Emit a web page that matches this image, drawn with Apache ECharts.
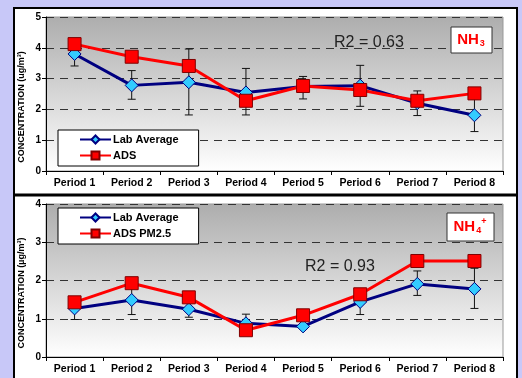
<!DOCTYPE html>
<html>
<head>
<meta charset="utf-8">
<script src="https://cdn.jsdelivr.net/npm/echarts@6/dist/echarts.min.js"></script>
<style>
html,body{margin:0;padding:0;background:#c8c8f8;}
#chart{width:522px;height:378px;}
</style>
</head>
<body>
<div id="chart"></div>
<script>
const categories = ['Period 1','Period 2','Period 3','Period 4','Period 5','Period 6','Period 7','Period 8'];
const nh3Lab = [3.8, 2.78, 2.88, 2.55, 2.74, 2.77, 2.2, 1.81];
const nh3Ads = [4.12, 3.71, 3.41, 2.28, 2.76, 2.63, 2.28, 2.52];
const nh3ErrLow = [3.41, 2.33, 1.82, 1.82, 2.34, 2.1, 1.8, 1.28];
const nh3ErrHigh = [4.19, 3.26, 3.96, 3.33, 3.07, 3.43, 2.6, 2.34];
const nh4Lab = [1.27, 1.49, 1.25, 0.88, 0.8, 1.44, 1.91, 1.78];
const nh4Ads = [1.43, 1.93, 1.56, 0.7, 1.09, 1.64, 2.51, 2.51];
const nh4ErrLow = [0.98, 1.11, 1.04, 0.64, 0.74, 1.11, 1.61, 1.27];
const nh4ErrHigh = [1.56, 1.87, 1.46, 1.12, 0.86, 1.77, 2.25, 2.32];
const nh3Ticks = [0, 1, 2, 3, 4, 5];
const nh4Ticks = [0, 1, 2, 3, 4];

const chart = echarts.init(document.getElementById('chart'));
const FONT = 'Liberation Sans, Arial, sans-serif';

function grad() {
  return new echarts.graphic.LinearGradient(0, 0, 0, 1, [
    {offset: 0, color: '#adadad'},
    {offset: 1, color: '#ffffff'}
  ]);
}

function errRender(params, api) {
  const x = api.value(0);
  const p1 = api.coord([x, api.value(1)]);
  const p2 = api.coord([x, api.value(2)]);
  const w = 4;
  const st = {stroke: '#111', lineWidth: 1};
  return {type: 'group', children: [
    {type: 'line', shape: {x1: p1[0], y1: p1[1], x2: p2[0], y2: p2[1]}, style: st},
    {type: 'line', shape: {x1: p1[0]-w, y1: p1[1], x2: p1[0]+w, y2: p1[1]}, style: st},
    {type: 'line', shape: {x1: p2[0]-w, y1: p2[1], x2: p2[0]+w, y2: p2[1]}, style: st}
  ]};
}

function xAx(gi) {
  return {
    type: 'category', gridIndex: gi, data: categories, boundaryGap: true,
    axisLine: {lineStyle: {color: '#000', width: 1}},
    axisTick: {show: true, length: 4, lineStyle: {color: '#000'}},
    axisLabel: {interval: 0, margin: 7, color: '#000', fontWeight: 'bold', fontSize: 10.5, fontFamily: FONT},
    splitLine: {show: false}
  };
}
function yAx(gi, ticks) {
  return {
    type: 'value', gridIndex: gi, min: ticks[0], max: ticks[ticks.length-1], interval: 1,
    axisLine: {show: true, lineStyle: {color: '#000', width: 1}},
    axisTick: {show: true, length: 4, lineStyle: {color: '#000'}},
    axisLabel: {margin: 5, color: '#000', fontWeight: 'bold', fontSize: 10, fontFamily: FONT},
    splitLine: {show: true, lineStyle: {color: '#333', width: 1, type: [8, 6]}}
  };
}
function labSeries(gi, data) {
  return {
    name: 'Lab Average', type: 'line', xAxisIndex: gi, yAxisIndex: gi, data: data,
    symbol: 'diamond', symbolSize: 13,
    lineStyle: {color: '#000080', width: 3},
    itemStyle: {color: '#33ccff', borderColor: '#000080', borderWidth: 1},
    z: 3
  };
}
function adsSeries(gi, name, data) {
  return {
    name: name, type: 'line', xAxisIndex: gi, yAxisIndex: gi, data: data,
    symbol: 'rect', symbolSize: 13,
    lineStyle: {color: '#ff0000', width: 3},
    itemStyle: {color: '#ff0000', borderColor: '#800000', borderWidth: 1},
    z: 4
  };
}
function errSeries(gi, lo, hi) {
  return {
    type: 'custom', xAxisIndex: gi, yAxisIndex: gi, renderItem: errRender,
    encode: {x: 0, y: [1, 2]}, z: 2, silent: true,
    data: categories.map((c, i) => [i, lo[i], hi[i]])
  };
}
function legendCfg(names, top) {
  return {
    data: names, orient: 'vertical', left: 58, top: top,
    backgroundColor: '#fff', borderColor: '#000', borderWidth: 1,
    padding: [4, 20, 5, 21], itemGap: 5, itemWidth: 31, itemHeight: 10,
    textStyle: {color: '#000', fontWeight: 'bold', fontSize: 11, fontFamily: FONT, padding: [0, 0, 0, -3]}
  };
}

const option = {
  backgroundColor: '#c8c8f8',
  animation: false,
  grid: [
    {left: 46, top: 17, width: 457, height: 154, show: true, backgroundColor: grad(), borderColor: '#999', borderWidth: 1},
    {left: 46, top: 204, width: 457, height: 153, show: true, backgroundColor: grad(), borderColor: '#999', borderWidth: 1}
  ],
  xAxis: [xAx(0), xAx(1)],
  yAxis: [yAx(0, nh3Ticks), yAx(1, nh4Ticks)],
  legend: [
    legendCfg(['Lab Average', 'ADS'], 130),
    legendCfg(['Lab Average', 'ADS PM2.5'], 208)
  ],
  series: [
    errSeries(0, nh3ErrLow, nh3ErrHigh),
    labSeries(0, nh3Lab),
    adsSeries(0, 'ADS', nh3Ads),
    errSeries(1, nh4ErrLow, nh4ErrHigh),
    labSeries(1, nh4Lab),
    adsSeries(1, 'ADS PM2.5', nh4Ads)
  ],
  graphic: [
    {type: 'rect', z: -10, shape: {x: 14, y: 8, width: 503, height: 380}, style: {fill: '#fff', stroke: '#000', lineWidth: 2}},
    {type: 'line', z: 10, shape: {x1: 14, y1: 195, x2: 517, y2: 195}, style: {stroke: '#000', lineWidth: 3}},
    {type: 'text', z: 10, x: 22, y: 107, rotation: Math.PI / 2,
      style: {text: 'CONCENTRATION (ug/m³)', fill: '#000', font: 'bold 9px ' + FONT, align: 'center', verticalAlign: 'middle'}},
    {type: 'text', z: 10, x: 22, y: 293, rotation: Math.PI / 2,
      style: {text: 'CONCENTRATION (µg/m³)', fill: '#000', font: 'bold 9px ' + FONT, align: 'center', verticalAlign: 'middle'}},
    {type: 'text', z: 10, x: 334, y: 43,
      style: {text: 'R2 = 0.63', fill: '#222', font: '16px ' + FONT, verticalAlign: 'middle'}},
    {type: 'text', z: 10, x: 305, y: 267,
      style: {text: 'R2 = 0.93', fill: '#222', font: '16px ' + FONT, verticalAlign: 'middle'}},
    {type: 'rect', z: 10, shape: {x: 451, y: 27, width: 41, height: 26}, style: {fill: '#fff', stroke: '#333', lineWidth: 1}},
    {type: 'text', z: 11, x: 471, y: 40,
      style: {text: '{a|NH}{b|3}', align: 'center', verticalAlign: 'middle',
        rich: {a: {fill: '#ff0000', font: 'bold 15px ' + FONT}, b: {fill: '#ff0000', font: 'bold 9px ' + FONT, padding: [8, 0, 0, 1]}}}},
    {type: 'rect', z: 10, shape: {x: 447, y: 213, width: 47, height: 28}, style: {fill: '#fff', stroke: '#333', lineWidth: 1}},
    {type: 'text', z: 11, x: 470, y: 227,
      style: {text: '{a|NH}{b|4}{c|+}', align: 'center', verticalAlign: 'middle',
        rich: {a: {fill: '#ff0000', font: 'bold 15px ' + FONT},
               b: {fill: '#ff0000', font: 'bold 9px ' + FONT, padding: [8, 0, 0, 1]},
               c: {fill: '#ff0000', font: 'bold 9px ' + FONT, padding: [0, 0, 10, 0]}}}}
  ]
};
chart.setOption(option);
</script>
</body>
</html>
